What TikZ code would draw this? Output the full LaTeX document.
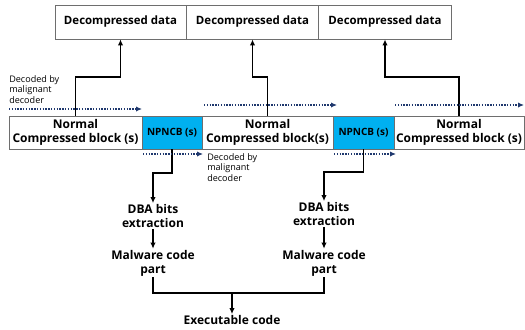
\documentclass[tikz,border=0pt]{standalone}
\usepackage{fontspec}
\setmainfont{Open Sans}
\usetikzlibrary{arrows.meta}

\definecolor{npncbblue}{RGB}{0,176,240}
\definecolor{decodenavy}{RGB}{31,56,110}
\definecolor{boxgray}{RGB}{110,110,110}

\tikzset{
	databox/.style={draw=boxgray, line width=0.6pt, minimum width=#1, minimum height=25.5pt, inner sep=0pt, font=\bfseries\fontsize{8.6}{10}\selectfont},
	blockbox/.style={draw=boxgray, line width=0.6pt, minimum width=#1, minimum height=24.75pt, inner sep=0pt, align=center, font=\bfseries\fontsize{9}{10.5}\selectfont},
	npncbbox/.style={blockbox=#1, fill=npncbblue, font=\bfseries\fontsize{7.5}{9}\selectfont},
	steptext/.style={align=center, inner sep=0.75pt, font=\bfseries\fontsize{9}{10.5}\selectfont},
	decodenote/.style={anchor=north west, align=left, inner sep=0.75pt, font=\fontsize{6.8}{8}\selectfont},
	flow/.style={line width=1.4pt, -{Latex[length=4.5pt,width=4pt]}},
	joinline/.style={line width=1.4pt},
	decodeflow/.style={decodenavy, line width=1.5pt, dash pattern=on 1.1pt off 1pt, -{Latex[length=4.5pt,width=4pt]}}
}

\begin{document}
\begin{tikzpicture}[x=0.75pt,y=0.75pt,yscale=-1,xscale=1]
	\useasboundingbox (0,0) rectangle (525,329);

	% Text Node
	\node [databox=98.25pt] (dec1) at (120.5,22) {Decompressed data};
	% Text Node
	\node [databox=99pt] (dec2) at (252.5,22) {Decompressed data};
	% Text Node
	\node [databox=99.75pt] (dec3) at (385,22) {Decompressed data};
	% Text Node
	\node [blockbox=99.75pt] (ncb1) at (75.5,132.5) {Normal\\Compressed block (s)};
	% Text Node
	\node [npncbbox=45pt] (npn1) at (172,132.5) {NPNCB (s)};
	% Text Node
	\node [blockbox=98.25pt] (ncb2) at (267.5,132.5) {Normal\\Compressed block(s)};
	% Text Node
	\node [npncbbox=45.75pt] (npn2) at (363.5,132.5) {NPNCB (s)};
	% Text Node
	\node [blockbox=97.5pt] (ncb3) at (459,132.5) {Normal\\Compressed block (s)};
	% Text Node
	\node [decodenote] (note1) at (8,74) {Decoded by\\malignant\\decoder};
	% Text Node
	\node [decodenote] (note2) at (206,152) {Decoded by\\malignant\\decoder};
	% Text Node
	\node [steptext] (dba1) at (153,216) {DBA bits\\extraction};
	% Text Node
	\node [steptext] (dba2) at (324,214) {DBA bits\\extraction};
	% Text Node
	\node [steptext] (mal1) at (153,263) {Malware code\\part};
	% Text Node
	\node [steptext] (mal2) at (324,263) {Malware code\\part};
	% Text Node
	\node [steptext] (exe) at (232,320) {Executable code};

	% Coordinates
	\coordinate (d1s) at (9,109);
	\coordinate (d1e) at (142,109);
	\coordinate (d2s) at (204,105);
	\coordinate (d2e) at (337,105);
	\coordinate (d3s) at (395,105);
	\coordinate (d3e) at (524,105);
	\coordinate (d4s) at (143,154);
	\coordinate (d4e) at (203,154);
	\coordinate (d5s) at (334,154);
	\coordinate (d5e) at (396,154);
	\coordinate (join) at (232,293);

	% Connection
	\draw [flow] (ncb1.north) -- ++(0,-39) -| (dec1.south);
	% Connection
	\draw [flow] (ncb2.north) -- ++(0,-39) -| (dec2.south);
	% Connection
	\draw [flow] (ncb3.north) -- ++(0,-39) -| (dec3.south);
	% Connection
	\draw [flow] (npn1.south) -- ++(0,24) -| (dba1.north);
	% Connection
	\draw [flow] (npn2.south) -- ++(0,23) -| (dba2.north);
	% Connection
	\draw [flow] (dba1.south) -- (mal1.north);
	% Connection
	\draw [flow] (dba2.south) -- (mal2.north);
	% Connection
	\draw [joinline] (mal1.south) |- (join) -| (mal2.south);
	% Connection
	\draw [flow] (join) -- (exe.north);
	% Connection
	\draw [decodeflow] (d1s) -- (d1e);
	\draw [decodeflow] (d2s) -- (d2e);
	\draw [decodeflow] (d3s) -- (d3e);
	\draw [decodeflow] (d4s) -- (d4e);
	\draw [decodeflow] (d5s) -- (d5e);

\end{tikzpicture}
\end{document}
